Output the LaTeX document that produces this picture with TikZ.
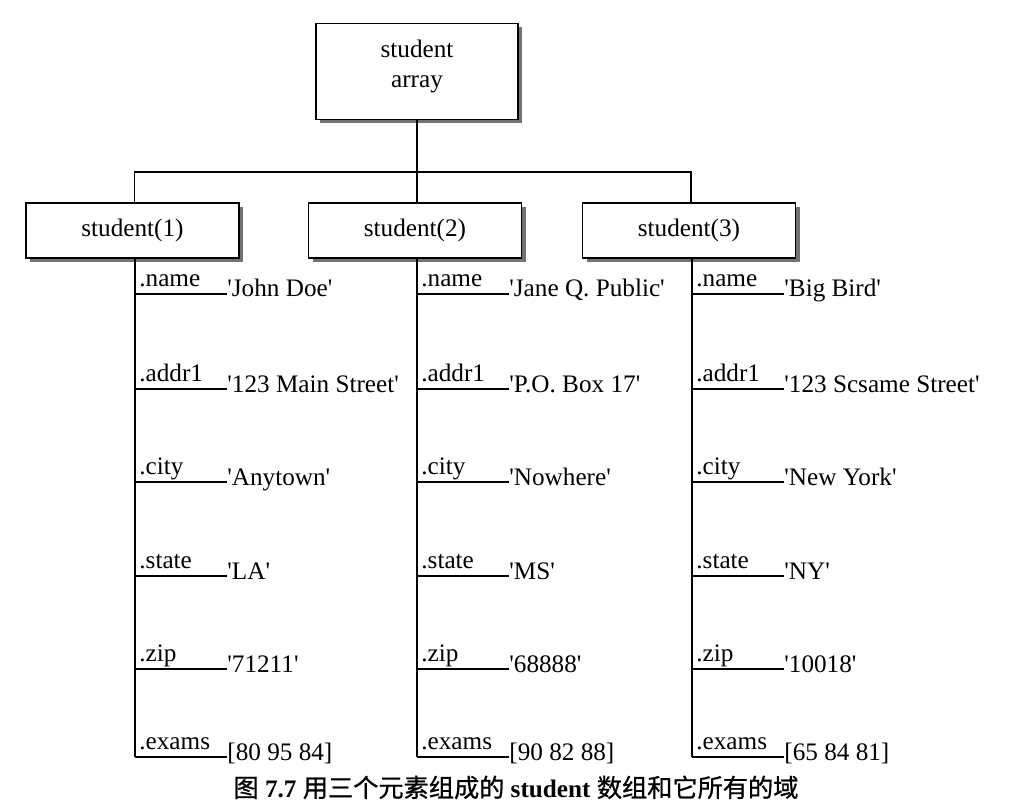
\documentclass[tikz,border=0pt]{standalone}
\usepackage{fontspec}
\setmainfont{Liberation Serif}
\newfontfamily\cjk{Noto Sans CJK SC}[FakeBold=0.8]
\usetikzlibrary{positioning,shadows}
\newcommand\qt{\textquotesingle}

\begin{document}
\begin{tikzpicture}[x=0.5pt,y=-0.5pt,
  every node/.style={font=\fontsize{12.6}{15}\selectfont},
  box/.style={draw,line width=0.9pt,fill=white,minimum width=106.5pt,minimum height=27.5pt,
    drop shadow={shadow xshift=2pt,shadow yshift=-2pt,fill=black!55,opacity=1}},
  fld/.style={anchor=base west,inner sep=0pt},
  val/.style={anchor=base west,inner sep=0pt},
  wire/.style={line width=0.8pt}]
\useasboundingbox (0,0) rectangle (1024,808);

% array box and the three elements
\node[box,minimum width=101pt,minimum height=48pt,align=center] (arr) at (417,71.5) {student\\array\\[-7pt]\mbox{}};
\node[box] (s1) at (132.5,230.5) {student(1)};
\node[box] (s2) at (415,230.5) {student(2)};
\node[box] (s3) at (689,230.5) {student(3)};

% tree lines
\coordinate (bus) at (417,172);
\draw[wire] (arr.south) -- (bus);
\draw[wire] ([xshift=1pt]s1.north) |- ([xshift=1pt]s3.north |- bus) -- ([xshift=1pt]s3.north);
\draw[wire] (bus) -- ([xshift=1pt]s2.north);

% spines
\foreach \c/\x in {1/135,2/417,3/692}
  \draw[wire] (s\c.south -| \x,0) -- (\x,757);

% fields
\foreach \f/\y/\va/\vb/\vc in {
  name/294/{\qt John Doe\qt}/{\qt Jane Q. Public\qt}/{\qt Big Bird\qt},
  addr1/389/{\qt 123 Main Street\qt}/{\qt P.O. Box 17\qt}/{\qt 123 Scsame Street\qt},
  city/482/{\qt Anytown\qt}/{\qt Nowhere\qt}/{\qt New York\qt},
  state/576/{\qt LA\qt}/{\qt MS\qt}/{\qt NY\qt},
  zip/669/{\qt 71211\qt}/{\qt 68888\qt}/{\qt 10018\qt},
  exams/757/{[80 95 84]}/{[90 82 88]}/{[65 84 81]}}
{
  \foreach \c/\x/\v in {1/135/\va,2/417/\vb,3/692/\vc}
  {
    \coordinate (p\c-\f) at (\x,\y);
    \node[fld] (n\c-\f) at (\x+4,\y-8) {.\f};
    \node[val] (v\c-\f) at (\x+92,\y+3) {\v};
    \draw[wire] (p\c-\f) -- ([yshift=1.5pt]v\c-\f.base west);
  }
}

% caption
\node[anchor=base] (cap) at (516,797)
  {{\cjk 图} \textbf{7.7} {\cjk 用三个元素组成的} \textbf{student} {\cjk 数组和它所有的域}};
\end{tikzpicture}
\end{document}
